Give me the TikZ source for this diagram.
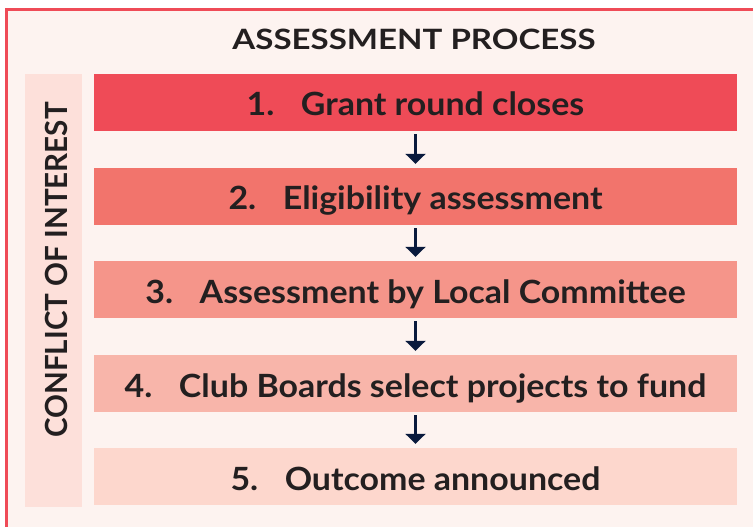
\documentclass[tikz,border=0pt]{standalone}
\usepackage{fontspec}
\setmainfont{Lato}
\usetikzlibrary{arrows.meta}
\definecolor{cA}{HTML}{EF4B57}
\definecolor{cB}{HTML}{F2746C}
\definecolor{cC}{HTML}{F5958A}
\definecolor{cD}{HTML}{F8B5AA}
\definecolor{cE}{HTML}{FDD7CD}
\definecolor{sidecol}{HTML}{FDE0DA}
\definecolor{bgcol}{HTML}{FDF3F0}
\definecolor{framecol}{HTML}{EF4B57}
\definecolor{arrowcol}{HTML}{0A1A3D}
\definecolor{txtcol}{HTML}{231F20}
\newcommand{\steptext}[2]{\scalebox{1.06}[1]{#1\hspace{25bp}#2}}
\begin{document}
\begin{tikzpicture}[x=1bp,y=-1bp,
  stepbox/.style={rectangle, draw=none, minimum width=643bp, minimum height=57bp, inner sep=0pt,
    text height=27bp, text depth=0bp, text=txtcol, font=\fontsize{32bp}{36bp}\selectfont\bfseries},
  flowarrow/.style={draw=arrowcol, line width=2.2bp, -{Triangle[width=20bp,length=10bp]}, shorten <=3bp, shorten >=4bp}]
\useasboundingbox (0,0) rectangle (753,527);
\fill[bgcol] (5,8) rectangle (753,527);
\draw[framecol, line width=3bp] (6.5,530) -- (6.5,9.5) -- (756,9.5);
\node[fill=sidecol, minimum width=57bp, minimum height=433bp, inner sep=0pt] (side) at (53.5,290.5) {};
\node[rotate=90, anchor=base, text=txtcol, inner sep=0pt, font=\fontsize{30.5bp}{34bp}\selectfont\bfseries] (sidelabel) at (67.5,270) {\scalebox{0.97}[1]{CONFLICT OF INTEREST}};
\node[anchor=base, text=txtcol, inner sep=0pt, font=\fontsize{28bp}{32bp}\selectfont\bfseries] (title) at (414,49.5) {\scalebox{1.18}[1]{ASSESSMENT PROCESS}};
\node[stepbox, fill=cA] (s1) at (415.5,102.5) {\steptext{1.}{Grant round closes}};
\node[stepbox, fill=cB] (s2) at (415.5,196.5) {\steptext{2.}{Eligibility assessment}};
\node[stepbox, fill=cC] (s3) at (415.5,289.5) {\steptext{3.}{Assessment by Local Committee}};
\node[stepbox, fill=cD] (s4) at (415.5,383.5) {\steptext{4.}{Club Boards select projects to fund}};
\node[stepbox, fill=cE] (s5) at (415.5,476.5) {\steptext{5.}{Outcome announced}};
\draw[flowarrow] (s1) -- (s2);
\draw[flowarrow] (s2) -- (s3);
\draw[flowarrow] (s3) -- (s4);
\draw[flowarrow] (s4) -- (s5);
\end{tikzpicture}
\end{document}
